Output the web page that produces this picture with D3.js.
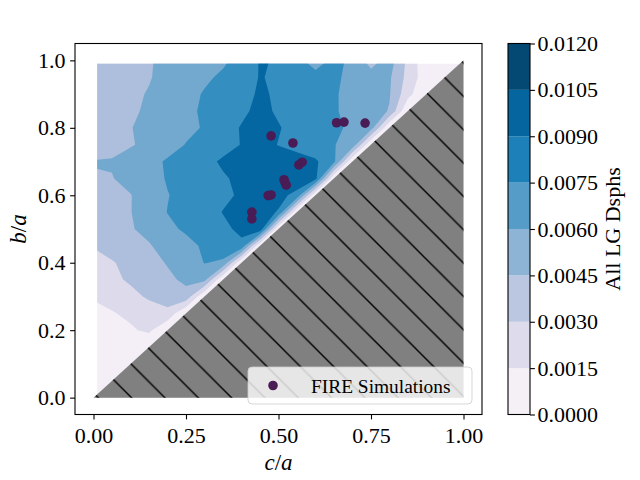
<!DOCTYPE html>
<html>
<head>
<meta charset="utf-8">
<title>LG Dsphs shape map</title>
<script src="https://cdn.jsdelivr.net/npm/d3@7"></script>
<style>
	body{ margin:0; padding:0; background:#fff; }
	svg{ display:block; }
	text{ font-family:"Liberation Serif","Times New Roman",serif; fill:#000; }
</style>
</head>
<body>
<svg id="svg" width="640" height="480"></svg>
<script>
// grid of the map: c/a along the columns, b/a along the rows
const cA = [0.00,0.05,0.10,0.15,0.20,0.25,0.30,0.35,0.40,0.45,0.50,0.55,0.60,0.65,0.70,0.75,0.80,0.85,0.90,0.95,1.00];
const bA = [0.00,0.05,0.10,0.15,0.20,0.25,0.30,0.35,0.40,0.45,0.50,0.55,0.60,0.65,0.70,0.75,0.80,0.85,0.90,0.95,1.00];

// All LG Dsphs, one row per b/a value (b/a = 0 first)
const dsph = [
	[0,0,0,0,0,0,0,0,0,0,0,0,0,0,0,0,0,0,0,0,0],
	[.0004,0,0,0,0,0,0,0,0,0,0,0,0,0,0,0,0,0,0,0,0],
	[.0005,.0006,0,0,0,0,0,0,0,0,0,0,0,0,0,0,0,0,0,0,0],
	[.0007,.0008,.0010,0,0,0,0,0,0,0,0,0,0,0,0,0,0,0,0,0,0],
	[.0009,.0011,.0013,.0018,0,0,0,0,0,0,0,0,0,0,0,0,0,0,0,0,0],
	[.0012,.0014,.0018,.0023,.0026,0,0,0,0,0,0,0,0,0,0,0,0,0,0,0,0],
	[.0016,.0020,.0026,.0032,.0037,.0040,0,0,0,0,0,0,0,0,0,0,0,0,0,0,0],
	[.0024,.0027,.0032,.0037,.0042,.0048,.0050,0,0,0,0,0,0,0,0,0,0,0,0,0,0],
	[.0027,.0029,.0034,.0040,.0046,.0051,.00605,.0058,0,0,0,0,0,0,0,0,0,0,0,0,0],
	[.00305,.0035,.0039,.0044,.0050,.0056,.0062,.0067,.0072,0,0,0,0,0,0,0,0,0,0,0,0],
	[.0039,.0042,.0044,.00485,.0057,.0062,.0067,.0072,.0078,.0086,0,0,0,0,0,0,0,0,0,0,0],
	[.0040,.00425,.00445,.0053,.00603,.0064,.0069,.00755,.0077,.0080,.0074,0,0,0,0,0,0,0,0,0,0],
	[.0040,.00425,.00445,.0052,.00595,.0064,.0068,.0072,.0077,.0081,.0079,.0071,0,0,0,0,0,0,0,0,0],
	[.0044,.00445,.0049,.0055,.0061,.0065,.0069,.00735,.0078,.0083,.0085,.0084,.0080,0,0,0,0,0,0,0,0],
	[.00456,.0046,.0050,.0056,.00615,.0066,.0071,.0077,.0080,.0083,.0082,.0080,.0077,.0064,0,0,0,0,0,0,0],
	[.0038,.0041,.0044,.0048,.0055,.00605,.0065,.0070,.00755,.0080,.00745,.0071,.0066,.00605,.0055,0,0,0,0,0,0],
	[.0037,.0041,.00445,.0049,.0053,.0057,.0061,.0069,.0076,.0080,.0076,.0070,.0066,.0062,.0058,.0052,0,0,0,0,0],
	[.0036,.0039,.0043,.0047,.0052,.0057,.0062,.0067,.0072,.0079,.0073,.0069,.0065,.0061,.0057,.0052,.0044,0,0,0,0],
	[.0036,.0039,.0042,.0046,.0051,.0056,.0061,.0065,.0070,.0077,.0073,.0069,.0065,.0061,.0057,.0052,.0046,.0020,0,0,0],
	[.0036,.0039,.0042,.0044,.0050,.0054,.0058,.0062,.0066,.0076,.0072,.0068,.0066,.0062,.0057,.0052,.0047,.0025,.0006,0,0],
	[.0035,.0038,.0041,.0044,.0048,.0051,.0054,.0058,.0064,.0076,.0074,.0065,.0052,.0064,.0057,.0038,.0052,.0026,.0004,.0003,0]
];

const levels = [0, 0.0015, 0.003, 0.0045, 0.006, 0.0075, 0.009, 0.0105, 0.012];
const levelLabels = ['0.0000','0.0015','0.0030','0.0045','0.0060','0.0075','0.0090','0.0105','0.0120'];
const mapColors = ['#f4eef6','#dcdaeb','#adbfdc','#74a9cf','#358ec0','#0567a2','#045a8d','#023858'];
const barColors = ['#f5eff6','#dedcec','#bbc7e0','#8db3d5','#559cc8','#1e80b8','#05659f','#034973'];

// FIRE simulations
const simC = [0.657,0.677,0.734,0.480,0.539,0.555,0.564,0.515,0.518,0.521,0.472,0.480,0.428,0.428];
const simB = [0.815,0.817,0.814,0.776,0.755,0.690,0.698,0.646,0.637,0.630,0.599,0.601,0.550,0.530];

const xTicks = [0, 0.25, 0.5, 0.75, 1];
const yTicks = [0, 0.2, 0.4, 0.6, 0.8, 1];

// forbidden corner (b < c) and the extent covered by the map
const maskC = [0, 1, 1];
const maskB = [0, 0, 1];
const mapC = [0.01, 1.0];
const mapB = [0.0, 0.99];

const pointColor = '#4a1c55';

let svg = d3.select('#svg');
let defs = svg.append('defs');

let axL = 75, axR = 482, axT = 43.5, axB = 414.5;
let x = d3.scaleLinear().domain([-0.05, 1.05]).range([axL, axR]);
let y = d3.scaleLinear().domain([-0.05, 1.05]).range([axB, axT]);

drawMap();
drawMask();
drawPoints();
drawAxes();
drawColorbar();
drawLegend();

function drawMap(){
	let nx = cA.length, ny = bA.length;
	let flat = [];
	dsph.forEach(row => row.forEach(v => flat.push(v)));

	let bands = d3.contours()
		.size([nx, ny])
		.thresholds(levels.slice(0, -1))(flat);

	// grid index -> data value (node centres sit at i+0.5)
	let gx = d3.scaleLinear().domain([0.5, nx - 0.5]).range([cA[0], cA[nx - 1]]);
	let gy = d3.scaleLinear().domain([0.5, ny - 0.5]).range([bA[0], bA[ny - 1]]);
	let proj = d3.geoTransform({
		point: function(u, v){ this.stream.point(x(gx(u)), y(gy(v))); }
	});
	let path = d3.geoPath(proj);

	defs.append('clipPath').attr('id', 'mapClip').append('rect')
		.attr('x', x(mapC[0]))
		.attr('y', y(mapB[1]))
		.attr('width', x(mapC[1]) - x(mapC[0]))
		.attr('height', y(mapB[0]) - y(mapB[1]));

	svg.append('g')
		.attr('clip-path', 'url(#mapClip)')
		.selectAll('path')
		.data(bands)
		.enter().append('path')
		.attr('d', path)
		.style('fill', (d, i) => mapColors[i])
		.style('stroke', 'none');
}

function drawMask(){
	let P = 100 / 3;
	let pat = defs.append('pattern')
		.attr('id', 'hatch')
		.attr('patternUnits', 'userSpaceOnUse')
		.attr('x', 0.5).attr('y', 0)
		.attr('width', P).attr('height', P);
	pat.append('path')
		.attr('d', 'M-1,-1L' + (P + 1) + ',' + (P + 1) +
			'M' + (P - 1) + ',-1L' + (P + 1) + ',1' +
			'M-1,' + (P - 1) + 'L1,' + (P + 1))
		.style('stroke', '#000')
		.style('stroke-width', 1.4)
		.style('fill', 'none');

	let pts = maskC.map((c, i) => [x(c), y(maskB[i])].join(',')).join(' ');
	svg.append('polygon').attr('points', pts).style('fill', '#808080');
	svg.append('polygon').attr('points', pts).style('fill', 'url(#hatch)');
}

function drawPoints(){
	svg.append('g').selectAll('circle')
		.data(simC)
		.enter().append('circle')
		.attr('cx', d => x(d))
		.attr('cy', (d, i) => y(simB[i]))
		.attr('r', 4.8)
		.style('fill', pointColor);
}

function drawAxes(){
	let gx = svg.append('g')
		.attr('transform', 'translate(0,' + axB + ')')
		.call(d3.axisBottom(x).tickValues(xTicks).tickFormat(d3.format('.2f'))
			.tickSize(4.9).tickSizeOuter(0).tickPadding(8));
	let gy = svg.append('g')
		.attr('transform', 'translate(' + axL + ',0)')
		.call(d3.axisLeft(y).tickValues(yTicks).tickFormat(d3.format('.1f'))
			.tickSize(4.9).tickSizeOuter(0).tickPadding(4.6));
	[gx, gy].forEach(g => {
		g.select('.domain').remove();
		g.attr('font-size', 22).attr('font-family', null);
		g.selectAll('line').style('stroke-width', 1.1);
	});

	svg.append('rect')
		.attr('x', axL).attr('y', axT)
		.attr('width', axR - axL).attr('height', axB - axT)
		.style('fill', 'none').style('stroke', '#000').style('stroke-width', 1.1);

	let xl = svg.append('text')
		.attr('x', (axL + axR) / 2).attr('y', 470)
		.attr('text-anchor', 'middle')
		.style('font-size', '23px');
	xl.append('tspan').style('font-style', 'italic').text('c');
	xl.append('tspan').text('/');
	xl.append('tspan').style('font-style', 'italic').text('a');

	let yl = svg.append('text')
		.attr('transform', 'translate(26,' + (axT + axB) / 2 + ') rotate(-90)')
		.attr('text-anchor', 'middle')
		.style('font-size', '23px');
	yl.append('tspan').style('font-style', 'italic').text('b');
	yl.append('tspan').text('/');
	yl.append('tspan').style('font-style', 'italic').text('a');
}

function drawColorbar(){
	let cbL = 508, cbR = 530;
	let cy = d3.scaleLinear().domain([levels[0], levels[levels.length - 1]]).range([axB, axT]);
	let bar = svg.append('g');
	bar.selectAll('rect')
		.data(barColors)
		.enter().append('rect')
		.attr('x', cbL)
		.attr('width', cbR - cbL)
		.attr('y', (d, i) => cy(levels[i + 1]))
		.attr('height', (d, i) => cy(levels[i]) - cy(levels[i + 1]))
		.style('fill', d => d);
	bar.append('rect')
		.attr('x', cbL).attr('y', axT)
		.attr('width', cbR - cbL).attr('height', axB - axT)
		.style('fill', 'none').style('stroke', '#000').style('stroke-width', 1.1);

	let ax = svg.append('g')
		.attr('transform', 'translate(' + cbR + ',0)')
		.call(d3.axisRight(cy).tickValues(levels).tickFormat((d, i) => levelLabels[i])
			.tickSize(4.9).tickSizeOuter(0).tickPadding(2.5));
	ax.select('.domain').remove();
	ax.attr('font-size', 22).attr('font-family', null);
	ax.selectAll('line').style('stroke-width', 1.1);

	svg.append('text')
		.attr('transform', 'translate(620,' + (axT + axB) / 2 + ') rotate(-90)')
		.attr('text-anchor', 'middle')
		.style('font-size', '22px')
		.text('All LG Dsphs');
}

function drawLegend(){
	let lg = svg.append('g');
	lg.append('rect')
		.attr('x', 248).attr('y', 367)
		.attr('width', 224).attr('height', 37)
		.attr('rx', 4).attr('ry', 4)
		.style('fill', '#fff').style('fill-opacity', 0.8)
		.style('stroke', '#ccc').style('stroke-opacity', 0.8);
	lg.append('circle')
		.attr('cx', 273).attr('cy', 385.5).attr('r', 4.8)
		.style('fill', pointColor);
	lg.append('text')
		.attr('x', 311).attr('y', 392.5)
		.style('font-size', '19.4px')
		.text('FIRE Simulations');
}
</script>
</body>
</html>
